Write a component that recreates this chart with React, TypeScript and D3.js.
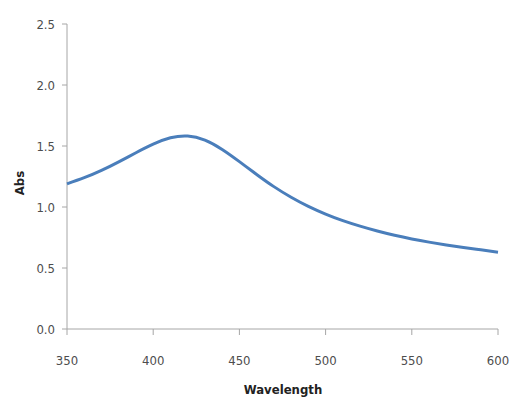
import React from 'react';
import * as d3 from 'd3';

// absorbance spectrum
const wavelengths = [350, 360, 370, 380, 390, 400, 410, 420, 430, 440, 450, 460, 470, 480, 490, 500,
  510, 520, 530, 540, 550, 560, 570, 580, 590, 600];
const absorbance = [1.19, 1.24, 1.3, 1.37, 1.445, 1.515, 1.567, 1.582, 1.548, 1.472, 1.372, 1.267, 1.167,
  1.08, 1.005, 0.942, 0.888, 0.843, 0.803, 0.768, 0.738, 0.712, 0.689, 0.668, 0.649, 0.63];
const xTicks = [350, 400, 450, 500, 550, 600];
const yTicks = [0, 0.5, 1.0, 1.5, 2.0, 2.5];

const W = 512;
const H = 402;
const margin = { left: 67, right: 14, top: 24, bottom: 73 };
const font = '"DejaVu Sans Condensed", "Liberation Sans Narrow", sans-serif';

const App = () => {
  const x = d3.scaleLinear().domain([350, 600]).range([margin.left, W - margin.right]);
  const y = d3.scaleLinear().domain([0, 2.5]).range([H - margin.bottom, margin.top]);

  const line = d3.line<number>()
    .x((d, i) => x(wavelengths[i]))
    .y(d => y(d))
    .curve(d3.curveNatural);

  const y0 = y(0);

  return (
    <div>
      <style>{'body{margin:0}'}</style>
      <svg width={W} height={H} style={{ display: 'block', background: '#fff' }}>
        {/* y axis */}
        <line x1={margin.left} x2={margin.left} y1={y(2.5)} y2={y0} stroke="#a6a6a6" strokeWidth={1} />
        {yTicks.map(t => (
          <g key={t}>
            <line x1={margin.left - 5} x2={margin.left} y1={y(t)} y2={y(t)} stroke="#a6a6a6" />
            <text x={margin.left - 12} y={y(t)} dy="0.35em" textAnchor="end"
              fontFamily={font} fontSize={13} fill="#4d4d4d">{t.toFixed(1)}</text>
          </g>
        ))}
        {/* x axis */}
        <line x1={margin.left} x2={W - margin.right} y1={y0} y2={y0} stroke="#a6a6a6" strokeWidth={1} />
        {xTicks.map(t => (
          <g key={t}>
            <line x1={x(t)} x2={x(t)} y1={y0} y2={y0 + 6} stroke="#a6a6a6" />
            <text x={x(t)} y={y0 + 36} textAnchor="middle"
              fontFamily={font} fontSize={13} fill="#4d4d4d">{t}</text>
          </g>
        ))}
        {/* curve */}
        <path d={line(absorbance) || ''} fill="none" stroke="#4a7ebb" strokeWidth={3} />
        {/* titles */}
        <text x={283} y={394} textAnchor="middle" fontFamily={font} fontSize={13}
          fontWeight="bold" fill="#222">Wavelength</text>
        <text transform={`translate(24, 183) rotate(-90)`} textAnchor="middle" fontFamily={font}
          fontSize={13} fontWeight="bold" fill="#222">Abs</text>
      </svg>
    </div>
  );
};

export default App;
